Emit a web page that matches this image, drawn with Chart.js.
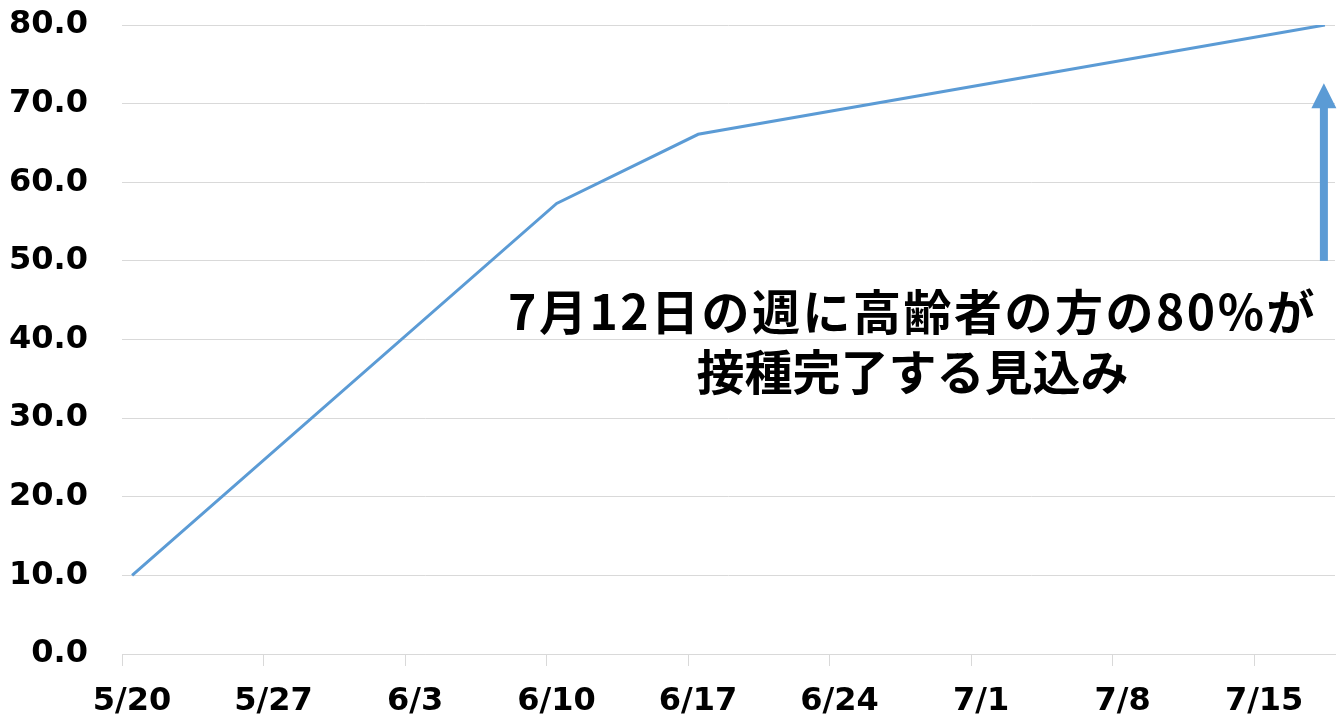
<!DOCTYPE html>
<html>
<head>
<meta charset="utf-8">
<script src="https://cdn.jsdelivr.net/npm/chart.js@4/dist/chart.umd.min.js"></script>
<style>
  body { margin: 0; background: #fff; }
  canvas { display: block; }
</style>
</head>
<body>
<canvas id="chart" width="1340" height="717"></canvas>
<script>
'use strict';
// data (days counted from 5/20)
let pointDates = ['5/20', '6/10', '6/17', '7/18'];
let pointDays = [0, 21, 28, 59];
let pointValues = [10.0, 57.3, 66.1, 80.0];

let tickDays = [0, 7, 14, 21, 28, 35, 42, 49, 56];
let tickLabels = ['5/20', '5/27', '6/3', '6/10', '6/17', '6/24', '7/1', '7/8', '7/15'];
let yTicks = [0, 10, 20, 30, 40, 50, 60, 70, 80];

let noteLines = ['7月12日の週に高齢者の方の80%が', '接種完了する見込み'];
let arrowFrom = 50;
let arrowTo = 72.6;

let lineColor = '#5B9BD5';
let gridColor = '#d9d9d9';

// each day is drawn in the middle of its slot, like the original sheet
let points = [];
for (let i = 0; i < pointDays.length; i++) {
  points.push({x: pointDays[i] + 0.5, y: pointValues[i]});
}

// arrow + text callout
let noteDrawer = {
  id: 'noteDrawer',
  afterDatasetsDraw(chart) {
    let ctx = chart.ctx;
    let xs = chart.scales.x;
    let ys = chart.scales.y;
    let last = points[points.length - 1];
    let ax = xs.getPixelForValue(last.x) - 1;
    let yBottom = ys.getPixelForValue(arrowFrom);
    let yTip = ys.getPixelForValue(arrowTo);
    ctx.save();
    ctx.fillStyle = lineColor;
    ctx.fillRect(ax - 4, yTip + 24, 8, yBottom - yTip - 24);
    ctx.beginPath();
    ctx.moveTo(ax, yTip);
    ctx.lineTo(ax + 12.5, yTip + 25);
    ctx.lineTo(ax - 12.5, yTip + 25);
    ctx.closePath();
    ctx.fill();

    ctx.fillStyle = '#000';
    ctx.font = 'bold 48px "Noto Sans CJK JP"';
    ctx.textAlign = 'center';
    ctx.textBaseline = 'middle';
    let cx = xs.getPixelForValue(39.1);
    ctx.letterSpacing = '2.5px';
    ctx.fillText(noteLines[0], cx, ys.getPixelForValue(43.5));
    ctx.letterSpacing = '0px';
    ctx.fillText(noteLines[1], cx, ys.getPixelForValue(35.9));
    ctx.restore();
  }
};

let myChart = new Chart(document.getElementById('chart').getContext('2d'), {
  type: 'line',
  data: {
    datasets: [{
      label: 'rate',
      data: points,
      borderColor: lineColor,
      borderWidth: 3,
      pointRadius: 0,
      tension: 0,
      fill: false
    }]
  },
  options: {
    responsive: false,
    animation: false,
    layout: {padding: {top: 25, right: 5, left: 0, bottom: 0}},
    plugins: {legend: {display: false}, tooltip: {enabled: false}},
    scales: {
      x: {
        type: 'linear',
        min: 0,
        max: 60,
        afterBuildTicks: (axis) => { axis.ticks = tickDays.map(v => ({value: v})); },
        afterFit: (axis) => { axis.height = 63; },
        border: {display: true, color: gridColor, width: 1},
        grid: {drawOnChartArea: false, drawTicks: true, tickLength: 12, color: gridColor},
        ticks: {
          color: '#000',
          padding: 16,
          labelOffset: 10, // labels sit in the middle of the day
          maxRotation: 0,
          autoSkip: false,
          font: {family: 'DejaVu Sans', size: 32, weight: 'bold'},
          callback: (v) => tickLabels[tickDays.indexOf(v)]
        }
      },
      y: {
        min: 0,
        max: 80,
        afterBuildTicks: (axis) => { axis.ticks = yTicks.map(v => ({value: v})); },
        afterFit: (axis) => { axis.width = 122; },
        border: {display: false},
        // invisible tick marks give the gap between labels and plot
        grid: {color: gridColor, drawTicks: true, tickLength: 34, tickColor: 'rgba(0,0,0,0)', lineWidth: 1},
        ticks: {
          color: '#000',
          padding: 0,
          font: {family: 'DejaVu Sans', size: 32, weight: 'bold'},
          callback: (v) => v.toFixed(1)
        }
      }
    }
  },
  plugins: [noteDrawer]
});
</script>
</body>
</html>
